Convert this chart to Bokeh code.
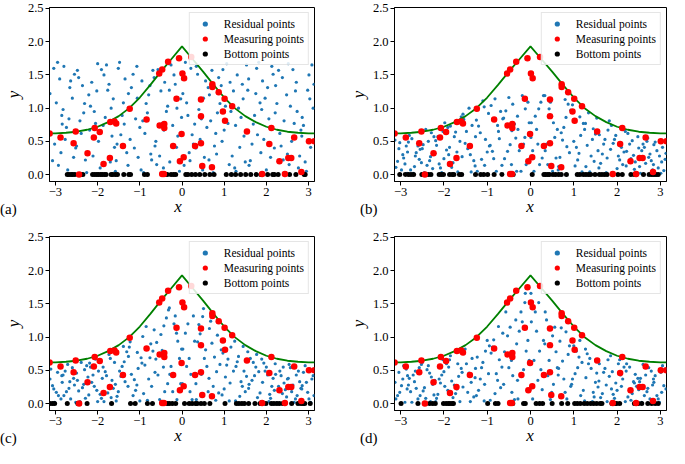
import math
from bokeh.plotting import figure
from bokeh.models import (Range1d, FixedTicker, CustomJSTickFormatter, Div,
                          Legend, LegendItem)
from bokeh.layouts import row, column
from bokeh.embed import file_html
from bokeh.resources import INLINE

# ---------------- data ----------------
X_TICKS = [-3, -2, -1, 0, 1, 2, 3]
Y_TICKS = [0.0, 0.5, 1.0, 1.5, 2.0, 2.5]
PANEL_TAGS = ["(a)", "(b)", "(c)", "(d)"]
LEGEND_LABELS = ["Residual points", "Measuring points", "Bottom points"]

CURVE_X = [-3.1416, -3.0, -2.75, -2.5, -2.25, -2.0, -1.75, -1.5, -1.25, -1.0, -0.75, -0.5, -0.25, 0.0,
           0.25, 0.5, 0.75, 1.0, 1.25, 1.5, 1.75, 2.0, 2.25, 2.5, 2.75, 3.0, 3.1416]
CURVE_Y = [0.62, 0.62, 0.63, 0.645, 0.675, 0.72, 0.79, 0.88, 1.00, 1.16, 1.35, 1.55, 1.74, 1.93,
           1.74, 1.55, 1.35, 1.16, 1.00, 0.88, 0.79, 0.72, 0.675, 0.645, 0.63, 0.62, 0.62]

MEAS_X = [-3.14, -2.88, -2.57, -2.52, -2.24, -2.09, -2.07, -1.95, -1.86, -1.71, -1.70, -1.60, -1.56,
          -1.40, -1.24, -0.84, -0.54, -0.47, -0.53, -0.42, -0.42, -0.33, -0.21, -0.13, -0.07, -0.05,
          -0.01, 0.01, 0.05, 0.04, 0.22, -0.47, -0.43, -2.44, 0.31, 0.45, 0.45, 0.48, 0.45, 0.71, 0.72,
          0.72, 0.87, 0.97, 1.01, 1.02, 1.19, 1.54, 1.90, 2.07, 2.12, 2.31, 2.44, 2.52, 2.59, 2.66,
          2.83, 3.01, 3.14]
MEAS_Y = [0.62, 0.56, 0.47, 0.65, 0.32, 0.56, 0.70, 0.64, 0.16, 0.25, 0.79, 0.80, 0.77,
          0.43, 0.99, 0.83, 1.52, 1.58, 0.74, 0.76, 0.70, 1.70, 0.43, 1.14, 1.75, 0.20,
          0.61, 1.52, 1.45, 0.26, 1.77, 0.01, 0.01, 0.00, 0.43, 1.13, 0.47, 0.13, 0.88, 0.11, 1.36,
          1.32, 1.24, 0.95, 1.14, 0.81, 1.03, 0.65, 0.01, 0.46, 0.70, 0.20, 0.01, 0.25, 0.25, 0.56,
          0.04, 0.50, 0.50]

BOTTOM_X_A = [-2.72, -2.68, -2.63, -2.59, -2.54, -2.44, -2.40, -2.35, -2.12, -2.07, -2.02, -1.98, -1.93,
              -1.89, -1.84, -1.80, -1.68, -1.64, -1.58, -1.53, -1.38, -1.26, -1.22, -0.89, -0.82, -0.45,
              -0.41, -0.35, -0.26, -0.20, -0.15, 0.09, 0.14, 0.23, 0.32, 0.42, 0.54, 0.66, 0.76, 1.05,
              1.17, 1.27, 1.39, 1.51, 1.63, 1.76, 1.87, 2.03, 2.15, 2.19, 2.28, 2.55, 2.70, 2.90, 2.92]
BOTTOM_X_B = [-3.02, -2.89, -2.82, -2.76, -2.70, -2.51, -2.43, -2.36, -2.30, -2.11, -2.06, -2.01, -1.87,
              -1.81, -1.77, -1.64, -1.59, -1.27, -1.15, -1.08, -0.99, -0.84, -0.66, -0.44, -0.40, 0.04,
              0.31, 0.35, 0.40, 0.44, 0.52, 0.58, 0.65, 0.71, 0.83, 1.08, 1.14, 1.22, 1.28, 1.34, 1.39,
              1.49, 1.59, 1.65, 1.71, 1.77, 1.90, 2.02, 2.12, 2.32, 2.40, 2.43, 2.61, 2.74, 2.80, 2.85,
              2.90, 2.95]
BOTTOM_X_C = [-3.13, -3.07, -3.02, -2.72, -2.47, -2.43, -2.25, -1.67, -1.22, -1.11, -0.82, -0.70, -0.45,
              -0.35, -0.30, -0.23, -0.15, 0.06, 0.17, 0.24, 0.32, 0.36, 0.45, 0.53, 0.66, 1.02, 1.29,
              1.35, 1.42, 1.48, 1.58, 1.73, 1.85, 1.99, 2.12, 2.18, 2.25, 2.31, 2.39, 2.60, 2.75, 2.82,
              2.87, 2.91, 3.04]
BOTTOM_X_D = [-2.99, -2.60, -2.42, -2.33, -2.26, -2.20, -2.01, -1.95, -1.90, -1.86, -1.81, -1.78, -0.99,
              -0.81, -0.75, -0.45, -0.41, -0.16, -0.12, 0.13, 0.21, 0.28, 0.50, 0.72, 0.86, 1.02, 1.08,
              1.15, 1.24, 1.31, 1.39, 1.46, 1.53, 1.61, 1.65, 1.88, 1.95, 1.99, 2.06, 2.40, 2.43, 2.49,
              2.57, 2.71, 2.80, 2.88, 2.95]

RES_X = [
    -2.93, -3.13, -3.11, -3.04, -2.85, -2.87, -2.90, -2.84, -3.02, -2.98, -2.95, -3.07,
    -2.82, -2.52, -2.55, -2.71, -2.74, -2.66, -2.77, -2.80, -2.57, -2.60, -2.68, -2.64,
    -2.39, -2.48, -2.29, -2.31, -2.36, -2.26, -2.42, -2.50, -2.45, -2.33, -2.23, -2.21,
    -2.14, -2.05, -1.94, -1.98, -2.00, -2.17, -2.02, -2.11, -2.19, -1.91, -1.89, -2.08,
    -1.60, -1.63, -1.82, -1.85, -1.70, -1.66, -1.68, -1.73, -1.58, -1.87, -1.76, -1.79,
    -1.51, -1.42, -1.31, -1.35, -1.37, -1.54, -1.39, -1.48, -1.56, -1.28, -1.27, -1.45,
    -0.97, -1.00, -1.20, -1.23, -1.07, -1.04, -1.06, -1.10, -0.95, -1.25, -1.13, -1.16,
    -0.85, -0.76, -0.91, -0.93, -0.64, -0.66, -0.82, -0.74, -0.79, -0.88, -0.69, -0.72,
    -0.62, -0.32, -0.34, -0.50, -0.53, -0.43, -0.57, -0.60, -0.37, -0.41, -0.47, -0.44,
    -0.19, -0.29, -0.10, -0.12, -0.16, -0.06, -0.22, -0.30, -0.26, -0.13, -0.03, -0.01,
    0.01, 0.30, 0.27, 0.11, 0.08, 0.19, 0.05, 0.02, 0.24, 0.21, 0.14, 0.17,
    0.43, 0.34, 0.53, 0.51, 0.46, 0.56, 0.40, 0.33, 0.37, 0.49, 0.59, 0.62,
    0.68, 0.77, 0.87, 0.84, 0.82, 0.65, 0.80, 0.71, 0.64, 0.90, 0.93, 0.74,
    1.22, 1.19, 1.00, 0.97, 1.12, 1.16, 1.14, 1.09, 1.25, 0.95, 1.06, 1.03,
    1.34, 1.43, 1.28, 1.27, 1.56, 1.53, 1.37, 1.45, 1.40, 1.31, 1.50, 1.47,
    1.85, 1.82, 1.62, 1.59, 1.75, 1.79, 1.77, 1.72, 1.87, 1.58, 1.69, 1.66,
    1.97, 2.06, 1.91, 1.89, 2.19, 2.16, 2.00, 2.08, 2.03, 1.94, 2.13, 2.10,
    2.21, 2.50, 2.48, 2.32, 2.29, 2.40, 2.25, 2.22, 2.45, 2.42, 2.35, 2.38,
    2.63, 2.54, 2.73, 2.71, 2.66, 2.76, 2.60, 2.52, 2.57, 2.69, 2.79, 2.82,
    2.88, 2.98, 3.08, 3.05, 3.03, 2.85, 3.01, 2.92, 2.84, 3.11, 3.13, 2.95,
]

RES_Y_A = [
    0.14, 1.22, 0.60, 1.60, 0.89, 0.33, 1.44, 0.76, 0.46, 1.08, 1.69, 0.21,
    0.98, 0.40, 1.51, 0.07, 0.71, 1.31, 0.53, 1.63, 0.26, 1.15, 0.84, 1.41,
    0.62, 1.57, 0.22, 1.07, 1.34, 0.03, 0.81, 0.43, 1.46, 0.93, 0.31, 1.20,
    1.39, 0.77, 0.10, 0.50, 1.67, 1.03, 1.26, 0.28, 0.67, 1.58, 0.15, 0.95,
    0.41, 1.14, 0.86, 1.50, 0.19, 0.58, 1.00, 1.36, 0.05, 0.74, 1.27, 1.65,
    1.60, 0.89, 0.33, 1.44, 0.76, 0.46, 1.08, 1.69, 0.21, 0.14, 1.22, 0.60,
    0.07, 0.71, 1.31, 0.53, 1.63, 0.26, 1.15, 0.84, 1.41, 0.98, 0.40, 1.51,
    1.07, 1.34, 0.03, 0.81, 0.43, 1.46, 0.93, 0.31, 1.20, 0.62, 1.57, 0.22,
    0.50, 1.67, 1.03, 1.26, 0.28, 0.67, 1.58, 0.15, 0.95, 1.39, 0.77, 0.10,
    1.50, 0.19, 0.58, 1.00, 1.36, 0.05, 0.74, 1.27, 1.65, 0.41, 1.14, 0.86,
    1.44, 0.76, 0.46, 1.08, 1.69, 0.21, 0.14, 1.22, 0.60, 1.60, 0.89, 0.33,
    0.53, 1.63, 0.26, 1.15, 0.84, 1.41, 0.98, 0.40, 1.51, 0.07, 0.71, 1.31,
    0.81, 0.43, 1.46, 0.93, 0.31, 1.20, 0.62, 1.57, 0.22, 1.07, 1.34, 0.03,
    1.26, 0.28, 0.67, 1.58, 0.15, 0.95, 1.39, 0.77, 0.10, 0.50, 1.67, 1.03,
    1.00, 1.36, 0.05, 0.74, 1.27, 1.65, 0.41, 1.14, 0.86, 1.50, 0.19, 0.58,
    1.08, 1.69, 0.21, 0.14, 1.22, 0.60, 1.60, 0.89, 0.33, 1.44, 0.76, 0.46,
    1.15, 0.84, 1.41, 0.98, 0.40, 1.51, 0.07, 0.71, 1.31, 0.53, 1.63, 0.26,
    0.93, 0.31, 1.20, 0.62, 1.57, 0.22, 1.07, 1.34, 0.03, 0.81, 0.43, 1.46,
    1.58, 0.15, 0.95, 1.39, 0.77, 0.10, 0.50, 1.67, 1.03, 1.26, 0.28, 0.67,
    0.74, 1.27, 1.65, 0.41, 1.14, 0.86, 1.50, 0.19, 0.58, 1.00, 1.36, 0.05,
]

RES_Y_B = [
    0.25, 0.52, 0.11, 0.39, 0.02, 0.43, 0.16, 0.34, 0.48, 0.07, 0.30, 0.20,
    0.49, 0.18, 0.38, 0.02, 0.54, 0.28, 0.07, 0.59, 0.23, 0.43, 0.12, 0.33,
    0.14, 0.45, 0.63, 0.27, 0.50, 0.09, 0.68, 0.39, 0.03, 0.21, 0.57, 0.32,
    0.57, 0.03, 0.37, 0.78, 0.24, 0.44, 0.65, 0.16, 0.51, 0.71, 0.30, 0.10,
    0.87, 0.50, 0.11, 0.73, 0.34, 0.80, 0.04, 0.64, 0.27, 0.41, 0.57, 0.18,
    0.47, 1.00, 0.21, 0.74, 0.04, 0.83, 0.30, 0.65, 0.91, 0.13, 0.57, 0.39,
    0.92, 0.34, 0.73, 0.05, 1.02, 0.53, 0.14, 1.11, 0.43, 0.82, 0.23, 0.63,
    0.24, 0.74, 1.04, 0.44, 0.84, 0.14, 1.14, 0.65, 0.05, 0.35, 0.95, 0.54,
    0.85, 0.05, 0.55, 1.16, 0.35, 0.66, 0.96, 0.24, 0.76, 1.06, 0.45, 0.15,
    1.19, 0.68, 0.15, 0.99, 0.46, 1.09, 0.05, 0.88, 0.36, 0.56, 0.78, 0.25,
    0.56, 1.19, 0.25, 0.88, 0.05, 0.99, 0.36, 0.78, 1.09, 0.15, 0.68, 0.46,
    0.99, 0.36, 0.78, 0.05, 1.09, 0.56, 0.15, 1.19, 0.46, 0.88, 0.25, 0.68,
    0.26, 0.71, 1.06, 0.42, 0.86, 0.12, 1.13, 0.63, 0.07, 0.33, 0.97, 0.52,
    0.77, 0.04, 0.50, 1.05, 0.32, 0.59, 0.87, 0.22, 0.68, 0.96, 0.41, 0.13,
    0.93, 0.53, 0.12, 0.77, 0.36, 0.85, 0.04, 0.69, 0.28, 0.44, 0.61, 0.20,
    0.38, 0.81, 0.17, 0.60, 0.03, 0.67, 0.25, 0.53, 0.74, 0.10, 0.46, 0.31,
    0.59, 0.22, 0.47, 0.03, 0.65, 0.34, 0.09, 0.71, 0.28, 0.53, 0.15, 0.41,
    0.13, 0.40, 0.57, 0.24, 0.46, 0.08, 0.62, 0.35, 0.03, 0.19, 0.51, 0.29,
    0.41, 0.02, 0.26, 0.55, 0.17, 0.31, 0.46, 0.12, 0.36, 0.50, 0.21, 0.07,
    0.49, 0.28, 0.06, 0.41, 0.19, 0.45, 0.02, 0.36, 0.15, 0.23, 0.32, 0.10,
]

RES_Y_C = [
    0.12, 0.37, 0.52, 0.22, 0.42, 0.07, 0.57, 0.32, 0.02, 0.17, 0.47, 0.27,
    0.43, 0.02, 0.28, 0.59, 0.18, 0.33, 0.49, 0.12, 0.38, 0.54, 0.23, 0.07,
    0.62, 0.35, 0.08, 0.51, 0.24, 0.57, 0.03, 0.46, 0.19, 0.29, 0.40, 0.13,
    0.32, 0.67, 0.14, 0.49, 0.03, 0.55, 0.20, 0.43, 0.61, 0.08, 0.38, 0.26,
    0.62, 0.23, 0.48, 0.03, 0.68, 0.35, 0.09, 0.74, 0.29, 0.55, 0.16, 0.42,
    0.18, 0.56, 0.78, 0.33, 0.63, 0.11, 0.86, 0.49, 0.04, 0.26, 0.71, 0.41,
    0.69, 0.04, 0.44, 0.93, 0.28, 0.53, 0.77, 0.20, 0.61, 0.85, 0.36, 0.12,
    1.16, 0.69, 0.15, 1.01, 0.47, 1.11, 0.05, 0.90, 0.37, 0.58, 0.79, 0.26,
    0.67, 1.41, 0.30, 1.04, 0.06, 1.17, 0.43, 0.92, 1.29, 0.18, 0.80, 0.55,
    1.20, 0.44, 0.94, 0.06, 1.32, 0.68, 0.18, 1.44, 0.56, 1.06, 0.30, 0.82,
    0.30, 0.94, 1.32, 0.56, 1.06, 0.18, 1.44, 0.82, 0.06, 0.44, 1.20, 0.68,
    1.05, 0.06, 0.68, 1.43, 0.44, 0.81, 1.19, 0.30, 0.93, 1.31, 0.56, 0.18,
    1.24, 0.70, 0.16, 1.03, 0.48, 1.13, 0.05, 0.91, 0.38, 0.59, 0.81, 0.26,
    0.49, 1.03, 0.22, 0.76, 0.04, 0.85, 0.31, 0.67, 0.94, 0.13, 0.58, 0.40,
    0.71, 0.26, 0.56, 0.04, 0.78, 0.41, 0.11, 0.86, 0.33, 0.63, 0.18, 0.49,
    0.16, 0.48, 0.68, 0.29, 0.55, 0.09, 0.74, 0.42, 0.03, 0.23, 0.62, 0.35,
    0.49, 0.03, 0.32, 0.67, 0.20, 0.38, 0.55, 0.14, 0.43, 0.61, 0.26, 0.08,
    0.60, 0.37, 0.10, 0.49, 0.26, 0.55, 0.01, 0.44, 0.21, 0.31, 0.42, 0.15,
    0.28, 0.59, 0.12, 0.43, 0.02, 0.49, 0.18, 0.38, 0.54, 0.07, 0.33, 0.23,
    0.47, 0.17, 0.37, 0.02, 0.52, 0.27, 0.07, 0.57, 0.22, 0.42, 0.12, 0.32,
]

RES_Y_D = [
    0.57, 0.32, 0.07, 0.47, 0.22, 0.52, 0.02, 0.42, 0.17, 0.27, 0.37, 0.12,
    0.28, 0.59, 0.12, 0.43, 0.02, 0.49, 0.18, 0.38, 0.54, 0.07, 0.33, 0.23,
    0.51, 0.19, 0.40, 0.03, 0.57, 0.29, 0.08, 0.62, 0.24, 0.46, 0.13, 0.35,
    0.14, 0.43, 0.60, 0.26, 0.48, 0.08, 0.66, 0.37, 0.03, 0.20, 0.55, 0.31,
    0.53, 0.03, 0.34, 0.72, 0.22, 0.41, 0.60, 0.15, 0.47, 0.66, 0.28, 0.09,
    0.82, 0.46, 0.10, 0.68, 0.32, 0.75, 0.03, 0.60, 0.25, 0.39, 0.53, 0.17,
    0.45, 0.95, 0.20, 0.70, 0.04, 0.79, 0.29, 0.62, 0.87, 0.12, 0.54, 0.37,
    0.96, 0.35, 0.76, 0.05, 1.06, 0.55, 0.15, 1.16, 0.45, 0.85, 0.24, 0.66,
    0.29, 0.90, 1.26, 0.54, 1.02, 0.17, 1.38, 0.78, 0.06, 0.42, 1.15, 0.65,
    1.23, 0.07, 0.79, 1.66, 0.51, 0.95, 1.38, 0.35, 1.09, 1.52, 0.65, 0.21,
    1.66, 0.95, 0.21, 1.38, 0.65, 1.52, 0.07, 1.23, 0.51, 0.79, 1.09, 0.35,
    0.65, 1.38, 0.29, 1.02, 0.06, 1.15, 0.42, 0.90, 1.26, 0.17, 0.78, 0.54,
    0.94, 0.37, 0.74, 0.07, 1.08, 0.53, 0.17, 1.14, 0.43, 0.87, 0.26, 0.64,
    0.20, 0.62, 0.87, 0.37, 0.70, 0.12, 0.95, 0.54, 0.04, 0.29, 0.79, 0.45,
    0.60, 0.03, 0.39, 0.82, 0.25, 0.46, 0.68, 0.17, 0.53, 0.75, 0.32, 0.10,
    0.72, 0.41, 0.09, 0.60, 0.28, 0.66, 0.03, 0.53, 0.22, 0.34, 0.47, 0.15,
    0.31, 0.66, 0.14, 0.48, 0.03, 0.55, 0.20, 0.43, 0.60, 0.08, 0.37, 0.26,
    0.49, 0.21, 0.38, 0.05, 0.55, 0.31, 0.10, 0.60, 0.26, 0.44, 0.15, 0.33,
    0.12, 0.38, 0.54, 0.23, 0.43, 0.07, 0.59, 0.33, 0.02, 0.18, 0.49, 0.28,
    0.42, 0.02, 0.27, 0.57, 0.17, 0.32, 0.47, 0.12, 0.37, 0.52, 0.22, 0.07,
]

# ---------------- styling ----------------
SERIF = "Liberation Serif"
BLUE = "#1f77b4"
FRAME_W = 272
FRAME_H = 174
TOP_B, BOT_B = 7, 20


def make_panel(res_y, bottom_x, left, right):
    p = figure(width=left + FRAME_W + right, height=TOP_B + FRAME_H + BOT_B,
               x_range=Range1d(-math.pi, math.pi), y_range=Range1d(-0.104, 2.515),
               output_backend="svg", toolbar_location=None,
               min_border_left=left, min_border_right=right,
               min_border_top=TOP_B, min_border_bottom=BOT_B)
    p.xgrid.visible = False
    p.ygrid.visible = False
    p.outline_line_color = "black"
    p.outline_line_width = 1
    p.outline_line_alpha = 1
    p.background_fill_color = "white"
    p.border_fill_color = "white"

    for ax in (p.xaxis[0], p.yaxis[0]):
        ax.axis_line_color = "black"
        ax.major_tick_line_color = "black"
        ax.major_tick_out = 4
        ax.major_tick_in = 0
        ax.minor_tick_line_color = None
        ax.major_label_text_font = SERIF
        ax.major_label_text_font_size = "12.5px"
        ax.major_label_text_color = "black"
        ax.major_label_standoff = 2
    p.xaxis[0].ticker = FixedTicker(ticks=X_TICKS)
    p.yaxis[0].ticker = FixedTicker(ticks=Y_TICKS)
    p.xaxis[0].formatter = CustomJSTickFormatter(
        code="return (tick < 0 ? '\u2212' : '') + Math.abs(tick).toFixed(0);")
    p.yaxis[0].formatter = CustomJSTickFormatter(
        code="return (tick < 0 ? '\u2212' : '') + Math.abs(tick).toFixed(1);")
    p.yaxis[0].axis_label = "y"
    p.yaxis[0].axis_label_text_font = SERIF
    p.yaxis[0].axis_label_text_font_style = "italic"
    p.yaxis[0].axis_label_text_font_size = "17px"
    p.yaxis[0].axis_label_text_color = "black"
    p.yaxis[0].axis_label_standoff = 2

    res = p.scatter(RES_X, res_y, size=3.2, marker="circle",
                    fill_color=BLUE, line_color=None)
    p.line(CURVE_X, CURVE_Y, line_color="green", line_width=1.8)
    bot = p.scatter(bottom_x, [0.0] * len(bottom_x), size=5, marker="circle",
                    fill_color="black", line_color=None)
    meas = p.scatter(MEAS_X, MEAS_Y, size=6.5, marker="circle",
                     fill_color="red", line_color=None)

    legend = Legend(items=[LegendItem(label=LEGEND_LABELS[0], renderers=[res]),
                           LegendItem(label=LEGEND_LABELS[1], renderers=[meas]),
                           LegendItem(label=LEGEND_LABELS[2], renderers=[bot])],
                    location="top_right")
    legend.label_text_font = SERIF
    legend.label_text_font_size = "11.5px"
    legend.label_text_color = "black"
    legend.border_line_color = "#cccccc"
    legend.border_line_width = 1
    legend.background_fill_color = "white"
    legend.background_fill_alpha = 0.85
    legend.padding = 4
    legend.spacing = 2
    legend.margin = 5
    legend.glyph_height = 13
    legend.glyph_width = 22
    legend.label_height = 13
    legend.label_standoff = 8
    p.add_layout(legend)
    return p


def label_strip(tag, width, tag_left, frame_left, height):
    cx = frame_left + FRAME_W / 2
    html = (
        f'<div style="position:relative;width:{width}px;height:{height}px;'
        f'font-family:\'{SERIF}\',serif;color:black;line-height:1;">'
        f'<span style="position:absolute;left:{tag_left}px;top:1px;font-size:15px;">{tag}</span>'
        f'<span style="position:absolute;left:{cx - 10}px;width:20px;text-align:center;'
        f'top:-3px;font-size:17px;font-style:italic;">x</span></div>'
    )
    return Div(text=html, width=width, height=height, margin=0)


LEFT_A, RIGHT_A = 42, 28
LEFT_B, RIGHT_B = 52, 3
WA = LEFT_A + FRAME_W + RIGHT_A
WB = LEFT_B + FRAME_W + RIGHT_B

pa = make_panel(RES_Y_A, BOTTOM_X_A, LEFT_A, RIGHT_A)
pb = make_panel(RES_Y_B, BOTTOM_X_B, LEFT_B, RIGHT_B)
pc = make_panel(RES_Y_C, BOTTOM_X_C, LEFT_A, RIGHT_A)
pd = make_panel(RES_Y_D, BOTTOM_X_D, LEFT_B, RIGHT_B)

sa = label_strip(PANEL_TAGS[0], WA, 0, LEFT_A, 28)
sb = label_strip(PANEL_TAGS[1], WB, 18, LEFT_B, 28)
sc = label_strip(PANEL_TAGS[2], WA, 0, LEFT_A, 18)
sd = label_strip(PANEL_TAGS[3], WB, 18, LEFT_B, 18)

layout = column(row(pa, pb), row(sa, sb), row(pc, pd), row(sc, sd))
open("out.html", "w").write(file_html(layout, INLINE))
